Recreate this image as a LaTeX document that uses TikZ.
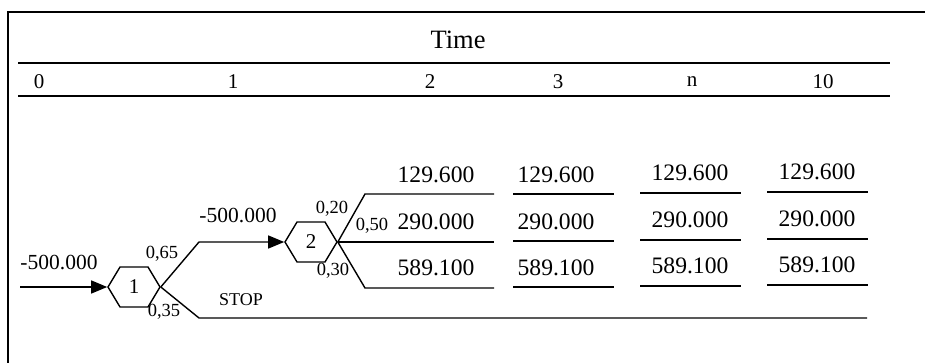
\documentclass[tikz,border=0pt]{standalone}
\usepackage{fontspec}
\setmainfont{Liberation Serif}
\usetikzlibrary{shapes.symbols,arrows.meta,positioning}

\begin{document}
\begin{tikzpicture}[x=1pt, y=-1pt, line width=1.4pt,
    hexnode/.style={draw, signal, signal to=east and west, signal pointer angle=118,
        minimum width=52pt, minimum height=40pt, inner sep=0pt, font=\fontsize{21}{21}\selectfont},
    val/.style={font=\fontsize{23.6}{23.6}\selectfont, inner sep=0pt},
    prob/.style={font=\fontsize{18.5}{18.5}\selectfont, inner sep=0pt},
    tick/.style={font=\fontsize{21}{21}\selectfont, inner sep=0pt},
    arr/.style={-{Triangle[length=16pt,width=13pt]}}]
    \useasboundingbox (0,0) rectangle (925,363);

    % frame and time axis
    \draw (925,12) -- (8,12) -- (8,363);
    \node[font=\fontsize{26.5}{26.5}\selectfont, inner sep=0pt] (time) at (458,40) {Time};
    \draw (18,63) -- (890,63);
    \draw (18,96) -- (890,96);
    \foreach \x/\t/\n in {39/0/t0, 233/1/t1, 430/2/t2, 558/3/t3, 692/n/tn, 823/10/t10}
        \node[tick] (\n) at (\x,82) {\t};

    % decision nodes
    \node[hexnode] (h1) at (134,287) {1};
    \node[hexnode] (h2) at (311,242) {2};

    \coordinate (start) at (20,287);
    \coordinate (up1) at (199,242);
    \coordinate (dn1) at (199,318);
    \coordinate (stopend) at (867,318);
    \draw[arr] (start) -- (h1.west);
    \draw[arr] (h1.east) -- (up1) -- (h2.west);
    \draw (h1.east) -- (dn1) -- (stopend);

    \node[font=\fontsize{21.5}{21.5}\selectfont, inner sep=0pt] (cost0) at (59,263) {-500.000};
    \node[font=\fontsize{21.5}{21.5}\selectfont, inner sep=0pt] (cost1) at (238,216) {-500.000};
    \node[prob] (p65) at (162,254) {0,65};
    \node[prob] (p35) at (164,312) {0,35};
    \node[font=\fontsize{18}{18}\selectfont, inner sep=0pt] (stop) at (241,300) {STOP};

    % branches after node 2
    \coordinate (b1) at (365,194);
    \coordinate (e1) at (494,194);
    \coordinate (e2) at (494,242);
    \coordinate (b3) at (365,288);
    \coordinate (e3) at (494,288);
    \draw (h2.east) -- (b1) -- (e1);
    \draw (h2.east) -- (e2);
    \draw (h2.east) -- (b3) -- (e3);
    \node[prob] (p20) at (332,209) {0,20};
    \node[prob] (p50) at (372,226) {0,50};
    \node[prob] (p30) at (333,271) {0,30};

    % cash flows per period
    \foreach \xa/\xb/\dy in {513/614/0, 640/741/-1, 767/868/-2} {
        \draw (\xa,194+\dy) -- (\xb,194+\dy);
        \draw (\xa,241+\dy) -- (\xb,241+\dy);
        \draw (\xa,287+\dy) -- (\xb,287+\dy);
    }
    \foreach \x/\c/\dy in {436/a/0, 556/b/0, 690/c/-2, 817/d/-3} {
        \node[val] (hi\c) at (\x,175+\dy) {129.600};
        \node[val] (mid\c) at (\x,222+\dy) {290.000};
        \node[val] (lo\c) at (\x,268+\dy) {589.100};
    }
\end{tikzpicture}
\end{document}
